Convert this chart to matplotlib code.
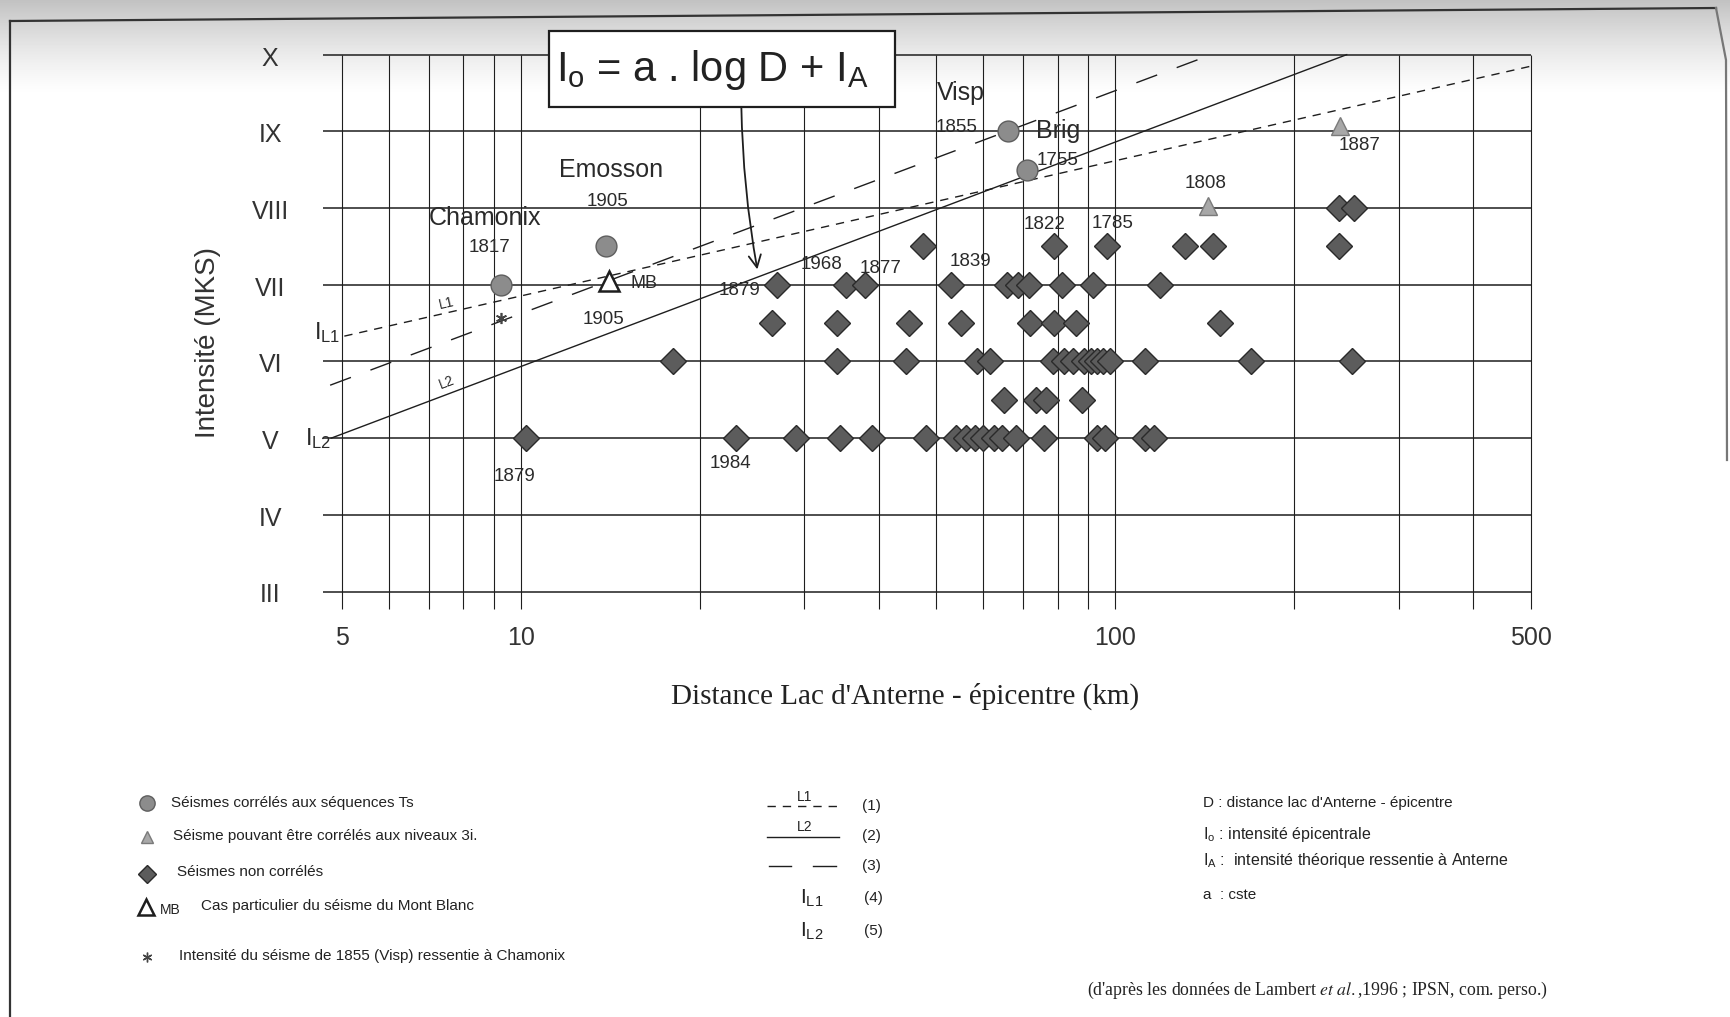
import numpy as np
import matplotlib.pyplot as plt
from matplotlib.patches import Rectangle

plt.rcParams['font.family'] = ['Liberation Sans', 'DejaVu Sans']
plt.rcParams['mathtext.fontset'] = 'custom'
plt.rcParams['mathtext.rm'] = 'Liberation Sans'
plt.rcParams['mathtext.it'] = 'Liberation Sans:italic'
plt.rcParams['mathtext.bf'] = 'Liberation Sans:bold'

INK = '#1e1e1e'

# axes
levels = [3, 4, 5, 6, 7, 8, 9, 10]
level_labels = ['III', 'IV', 'V', 'VI', 'VII', 'VIII', 'IX', 'X']
grid_dist = [5, 6, 7, 8, 9, 10, 20, 30, 40, 50, 60, 70, 80, 90, 100, 200, 300, 400, 500]
xtick_vals = [5, 10, 100, 500]

# séismes non corrélés (distance km, par niveau d'intensité)
nc_5 = [10.2, 23, 29, 34.5, 39, 48, 54, 56, 58, 60, 62.5, 64.5, 68, 76, 93, 96, 112, 116]
nc_55 = [65, 73.5, 76.5, 88]
nc_6 = [18, 34, 44.5, 58.5, 61.5, 78.5, 82, 85, 88.5, 91, 93, 95.5, 98, 112, 169, 250]
nc_65 = [26.5, 34, 45, 55, 72, 79, 86, 150]
nc_7 = [27, 35.3, 38, 53, 65.8, 68.5, 71.7, 81.5, 91.6, 119]
nc_75 = [47.5, 79, 97, 131, 146, 238]
nc_8 = [238, 252]

# séismes corrélés aux séquences Ts
ts_dist = [9.25, 13.9, 66, 71]
ts_int = [7.0, 7.5, 9.0, 8.5]
# séismes pouvant être corrélés aux niveaux 3i
n3i_dist = [143, 239]
n3i_int = [8.03, 9.07]
# Mont Blanc
mb_dist = [14.1]
mb_int = [7.05]
# Visp 1855 ressenti à Chamonix
visp_cham_dist = [9.28]
visp_cham_int = [6.57]

# droites L1, L2 et (3)
l1_dist = [5.05, 500]
l1_int = [6.33, 9.85]
l2_dist = [4.8, 245]
l2_int = [5.0, 10.0]
l3_dist = [4.78, 145]
l3_int = [5.69, 10.0]

# annotations (texte, distance, intensité, taille)
notes = [
    ('Chamonix', 8.7, 7.87, 18), ('1817', 8.85, 7.48, 13.5),
    ('Emosson', 14.2, 8.5, 18), ('1905', 14.0, 8.08, 13.5),
    ('1905', 13.8, 6.55, 13.5), ('1879', 23.3, 6.93, 13.5),
    ('1968', 32.0, 7.27, 13.5), ('1877', 40.3, 7.21, 13.5),
    ('1839', 57, 7.3, 13.5), ('Visp', 55.0, 9.5, 18),
    ('1855', 54.0, 9.05, 13.5), ('Brig', 80, 9.0, 18),
    ('1755', 80, 8.62, 13.5), ('1822', 76, 7.78, 13.5),
    ('1785', 99, 7.8, 13.5), ('1808', 142, 8.32, 13.5),
    ('1887', 258, 8.82, 13.5), ('1879', 9.77, 4.5, 13.5),
    ('1984', 22.5, 4.67, 13.5),
]

W, H = 1731, 1017
fig = plt.figure(figsize=(W / 100, H / 100), dpi=100)

# fond : ombre grise de la photocopie en haut
bg = fig.add_axes([0, 0, 1, 1], zorder=0)
rows = np.arange(H)
shade = 1 - 0.24 * np.clip(1 - rows / 95.0, 0, 1) ** 1.3
bg.imshow(np.repeat(shade[:, None], 4, axis=1), cmap='gray', vmin=0, vmax=1,
          aspect='auto', extent=[0, W, H, 0])
bg.set_xlim(0, W)
bg.set_ylim(H, 0)
bg.axis('off')

ax = fig.add_axes([323 / W, (H - 613) / H, 1213 / W, (613 - 47) / H], zorder=1)
ax.patch.set_alpha(0)
ax.set_xscale('log')
ax.set_xlim(4.65, 510)
ax.set_ylim(2.72, 10.1)
ax.axis('off')

ax.hlines(levels, 4.65, 500, color=INK, lw=1.1)
ax.vlines(grid_dist, 2.77, 10, color=INK, lw=0.8)

for y, lab in zip(levels, level_labels):
    ax.text(3.79, y - 0.05, lab, ha='center', va='center', fontsize=18, color='#333')
for v in xtick_vals:
    ax.text(v, 2.4, str(v), ha='center', va='center', fontsize=18, color='#333')

ax.plot(l1_dist, l1_int, color=INK, lw=1.0, dashes=(6, 5))
ax.plot(l2_dist, l2_int, color=INK, lw=1.0)
ax.plot(l3_dist, l3_int, color=INK, lw=1.0, dashes=(16, 15))

rows_nc = [(nc_5, 5), (nc_55, 5.5), (nc_6, 6), (nc_65, 6.5), (nc_7, 7), (nc_75, 7.5), (nc_8, 8)]
for dist, lev in rows_nc:
    ax.plot(dist, [lev] * len(dist), ls='none', marker='D', ms=13,
            mfc='#5c5c5c', mec='#2a2a2a', mew=1.0, zorder=4)

ax.plot(ts_dist, ts_int, ls='none', marker='o', ms=15, mfc='#8c8c8c', mec='#5e5e5e', mew=1, zorder=4)
ax.plot(n3i_dist, n3i_int, ls='none', marker='^', ms=13, mfc='#a8a8a8', mec='#7a7a7a', mew=1, zorder=4)
ax.plot(mb_dist, mb_int, ls='none', marker='^', ms=15, mfc='white', mec=INK, mew=1.8, zorder=4)
ax.plot(visp_cham_dist, visp_cham_int, ls='none', marker=(6, 2, 0), ms=8, mec='#444', mew=1.2, zorder=4)

for s, x, y, fs in notes:
    ax.text(x, y, s, ha='center', va='center', fontsize=fs, color='#2a2a2a')
ax.text(15.3, 7.02, 'MB', ha='left', va='center', fontsize=13, color='#2a2a2a')

ax.text(7.5, 6.76, 'L1', ha='center', va='center', fontsize=10, rotation=13, color='#2a2a2a')
ax.text(7.5, 5.72, 'L2', ha='center', va='center', fontsize=10, rotation=21, color='#2a2a2a')
ax.text(4.98, 6.38, r'$\mathrm{I}_{\mathrm{L1}}$', ha='right', va='center', fontsize=17, color='#2a2a2a')
ax.text(4.8, 5.0, r'$\mathrm{I}_{\mathrm{L2}}$', ha='right', va='center', fontsize=17, color='#2a2a2a')

ax.annotate('', xy=(25.0, 7.2), xytext=(23.5, 9.32),
            arrowprops=dict(arrowstyle='->', lw=1.3, color=INK, mutation_scale=22,
                            shrinkA=0, shrinkB=0, connectionstyle='arc3,rad=0.04'))

fig.text(905 / W, 1 - 696 / H, "Distance Lac d'Anterne - épicentre (km)",
         family='Liberation Serif', fontsize=21, ha='center', va='center', color='#222')
fig.text(208 / W, 1 - 342 / H, 'Intensité (MKS)', rotation=90, fontsize=20,
         ha='center', va='center', color='#333')

# calque page (pixels)
pg = fig.add_axes([0, 0, 1, 1], zorder=2)
pg.patch.set_alpha(0)
pg.set_xlim(0, W)
pg.set_ylim(H, 0)
pg.axis('off')

pg.add_patch(Rectangle((549, 31), 346, 76, facecolor='white', edgecolor=INK, lw=1.6))
pg.text(712, 70, r'$\mathrm{I}_{\mathrm{o}}$ = a . log D + $\mathrm{I}_{\mathrm{A}}$',
        ha='center', va='center', fontsize=30, color='#222')

# cadre de la page
pg.plot([10, 10], [H, 21], color='#333', lw=1.6)
pg.plot([10, 1716], [21, 8], color='#333', lw=1.6)
pg.plot([1716, 1726, 1727], [8, 60, 460], color='#777', lw=1.6)

# légende gauche
txt = dict(fontsize=11, va='center', ha='left', color='#222')
pg.plot(147, 803, marker='o', ms=11, mfc='#8c8c8c', mec='#5e5e5e')
pg.text(171, 803, 'Séismes corrélés aux séquences Ts', **txt)
pg.plot(147, 837, marker='^', ms=9, mfc='#a8a8a8', mec='#7a7a7a')
pg.text(173, 836, 'Séisme pouvant être corrélés aux niveaux 3i.', **txt)
pg.plot(147, 874, marker='D', ms=9, mfc='#5c5c5c', mec='#2a2a2a')
pg.text(177, 872, 'Séismes non corrélés', **txt)
pg.plot(146, 907, marker='^', ms=12, mfc='white', mec=INK, mew=1.8)
pg.text(160, 910, 'MB', fontsize=10, va='center', ha='left', color='#222')
pg.text(201, 906, 'Cas particulier du séisme du Mont Blanc', **txt)
pg.plot(147, 957, marker=(6, 2, 0), ms=7, mec='#444', mew=1)
pg.text(179, 956, 'Intensité du séisme de 1855 (Visp) ressentie à Chamonix', **txt)

# légende milieu
pg.plot([767, 839], [806, 806], color=INK, lw=1.0, dashes=(6, 5))
pg.text(805, 797, 'L1', fontsize=10, ha='center', va='center', color='#222')
pg.text(862, 806, '(1)', **txt)
pg.plot([767, 839], [837, 837], color=INK, lw=1.0)
pg.text(805, 827, 'L2', fontsize=10, ha='center', va='center', color='#222')
pg.text(862, 836, '(2)', **txt)
pg.plot([769, 791], [866, 866], color=INK, lw=1.0)
pg.plot([813, 836], [866, 866], color=INK, lw=1.0)
pg.text(862, 866, '(3)', **txt)
pg.text(800, 898, r'$\mathrm{I}_{\mathrm{L1}}$', fontsize=15, ha='left', va='center', color='#222')
pg.text(864, 898, '(4)', **txt)
pg.text(800, 931, r'$\mathrm{I}_{\mathrm{L2}}$', fontsize=15, ha='left', va='center', color='#222')
pg.text(864, 931, '(5)', **txt)

# légende droite
pg.text(1203, 803, "D : distance lac d'Anterne - épicentre", **txt)
pg.text(1203, 834, r'$\mathrm{I}_{\mathrm{o}}$ : intensité épicentrale', fontsize=11.5, va='center', ha='left', color='#222')
pg.text(1203, 861, r'$\mathrm{I}_{\mathrm{A}}$ :  intensité théorique ressentie à Anterne', fontsize=11.5, va='center', ha='left', color='#222')
pg.text(1203, 895, 'a  : cste', **txt)

pg.text(1317, 990, r"(d'après les données de Lambert $\mathit{et\ al.}$,1996 ; IPSN, com. perso.)",
        family='Liberation Serif', math_fontfamily='stix', fontsize=12.8,
        ha='center', va='center', color='#222')

fig.savefig('out.png', dpi=100)
